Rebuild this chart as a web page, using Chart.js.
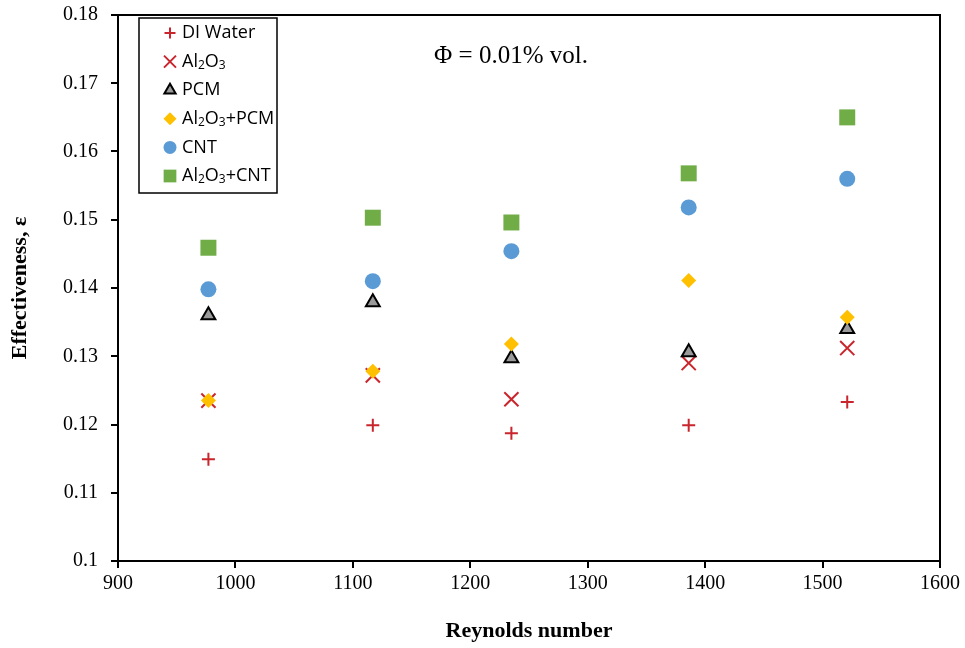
<!DOCTYPE html>
<html>
<head>
<meta charset="utf-8">
<script src="https://cdn.jsdelivr.net/npm/chart.js@4.4.1/dist/chart.umd.min.js"></script>
<style>
  html, body { margin: 0; padding: 0; background: #fff; }
  #wrap { width: 965px; height: 648px; }
</style>
</head>
<body>
<div id="wrap"><canvas id="chart" width="965" height="648"></canvas></div>
<script>
// values
var reynolds = [977, 1117, 1235, 1386, 1521];
var diWater  = [0.1149, 0.1199, 0.1187, 0.1199, 0.1233];
var al2o3    = [0.1235, 0.1272, 0.1237, 0.1290, 0.1312];
var pcm      = [0.1360, 0.1379, 0.1297, 0.1306, 0.1340];
var al2o3Pcm = [0.1235, 0.1278, 0.1318, 0.1411, 0.1357];
var cnt      = [0.1398, 0.1410, 0.1454, 0.1518, 0.1560];
var al2o3Cnt = [0.1459, 0.1503, 0.1496, 0.1568, 0.1650];

var seriesNames = ['DI Water', 'Al₂O₃', 'PCM', 'Al₂O₃+PCM', 'CNT', 'Al₂O₃+CNT'];
var xTicks = [900, 1000, 1100, 1200, 1300, 1400, 1500, 1600];
var yTicks = [0.1, 0.11, 0.12, 0.13, 0.14, 0.15, 0.16, 0.17, 0.18];
var noteText = 'Φ = 0.01% vol.';

var red = '#C9252C';

var styles = [
    {pointStyle: 'cross',    radius: 6.5, bg: red,       border: red,       bw: 2, legendR: 5.5},
    {pointStyle: 'crossRot', radius: 10,  bg: red,       border: red,       bw: 2, legendR: 8.5},
    {pointStyle: 'triangle', radius: 8,   bg: '#9A9A9A', border: '#000000', bw: 2, legendR: 6.5},
    {pointStyle: 'rectRot',  radius: 7.5, bg: '#FFC000', border: '#FFC000', bw: 0, legendR: 6.5},
    {pointStyle: 'circle',   radius: 8,   bg: '#5B9BD5', border: '#5B9BD5', bw: 0, legendR: 6.5},
    {pointStyle: 'rect',     radius: 11.3,bg: '#70AD47', border: '#70AD47', bw: 0, legendR: 9}
];

var allSeries = [diWater, al2o3, pcm, al2o3Pcm, cnt, al2o3Cnt];

var toPoints = function(ys){
    var pts = [];
    for(var i=0;i<reynolds.length;i++){
        pts.push({x: reynolds[i], y: ys[i]});
    }
    return pts;
};

var datasets = [];
for(var i=0;i<allSeries.length;i++){
    var s = styles[i];
    datasets.push({
        label: seriesNames[i],
        data: toPoints(allSeries[i]),
        showLine: false,
        pointStyle: s.pointStyle,
        pointRadius: s.radius,
        pointHoverRadius: s.radius,
        backgroundColor: s.bg,
        borderColor: s.border,
        pointBorderWidth: s.bw,
        borderWidth: s.bw,
        order: allSeries.length - i
    });
}

// draws text where unicode subscript digits become small lowered digits
var subMap = {'₀':'0','₁':'1','₂':'2','₃':'3','₄':'4'};
var drawRichText = function(ctx, text, x, y, size, family){
    var cx = x;
    for(var k=0;k<text.length;k++){
        var ch = text[k];
        if(subMap[ch]){
            ctx.font = Math.round(size*0.65) + 'px ' + family;
            ctx.fillText(subMap[ch], cx, y + size*0.22);
            cx += ctx.measureText(subMap[ch]).width;
        } else {
            ctx.font = size + 'px ' + family;
            ctx.fillText(ch, cx, y);
            cx += ctx.measureText(ch).width;
        }
    }
};

var framePlugin = {
    id: 'frame',
    afterDraw: function(chart){
        var ctx = chart.ctx;
        var a = chart.chartArea;
        ctx.save();
        ctx.strokeStyle = '#000';
        ctx.lineWidth = 2;
        ctx.beginPath();
        ctx.moveTo(a.left, a.top);
        ctx.lineTo(a.right, a.top);
        ctx.lineTo(a.right, a.bottom);
        ctx.stroke();

        // note text
        ctx.fillStyle = '#000';
        ctx.font = '25px "Liberation Serif"';
        ctx.textAlign = 'center';
        ctx.textBaseline = 'alphabetic';
        ctx.fillText(noteText, 511, 63);

        // legend box
        var bx = 139, by = 18, bw = 138, bh = 175;
        ctx.fillStyle = '#fff';
        ctx.fillRect(bx, by, bw, bh);
        ctx.lineWidth = 1.5;
        ctx.strokeStyle = '#000';
        ctx.strokeRect(bx, by, bw, bh);

        ctx.textAlign = 'left';
        ctx.textBaseline = 'middle';
        for(var i=0;i<seriesNames.length;i++){
            var s = styles[i];
            var yy = 33 + i*28.6;
            ctx.fillStyle = s.bg;
            ctx.strokeStyle = s.border;
            ctx.lineWidth = s.bw || 1;
            Chart.helpers.drawPoint(ctx, {pointStyle: s.pointStyle, radius: s.legendR, rotation: 0, borderWidth: s.bw}, 170, yy);
            ctx.fillStyle = '#000';
            drawRichText(ctx, seriesNames[i], 182, yy, 18, '"Open Sans"');
        }
        ctx.restore();
    }
};

var ctx = document.getElementById('chart').getContext('2d');
new Chart(ctx, {
    type: 'scatter',
    data: {datasets: datasets},
    options: {
        responsive: false,
        animation: false,
        layout: {padding: {top: 15, right: 25, left: 0, bottom: 0}},
        plugins: {legend: {display: false}, tooltip: {enabled: false}},
        scales: {
            x: {
                type: 'linear',
                min: 900, max: 1600,
                afterFit: function(scale){
                    scale.height = 87;
                    scale.paddingLeft = 0;
                    scale.paddingRight = 0;
                },
                afterBuildTicks: function(scale){
                    scale.ticks = xTicks.map(function(v){ return {value: v}; });
                },
                border: {color: '#000', width: 2},
                grid: {display: true, drawOnChartArea: false, drawTicks: true, tickLength: 7, color: '#000', lineWidth: 2},
                ticks: {
                    color: '#000', padding: 4,
                    font: {family: '"Liberation Serif"', size: 20},
                    callback: function(v){ return String(v); }
                },
                title: {
                    display: true, text: 'Reynolds number', color: '#000',
                    font: {family: '"Liberation Serif"', size: 22, weight: 'bold'},
                    padding: {top: 0, bottom: 3}
                }
            },
            y: {
                type: 'linear',
                min: 0.1, max: 0.18,
                afterFit: function(scale){
                    scale.width = 118;
                    scale.paddingTop = 0;
                    scale.paddingBottom = 0;
                },
                afterBuildTicks: function(scale){
                    scale.ticks = yTicks.map(function(v){ return {value: v}; });
                },
                border: {color: '#000', width: 2},
                grid: {display: true, drawOnChartArea: false, drawTicks: true, tickLength: 7, color: '#000', lineWidth: 2},
                ticks: {
                    color: '#000', padding: 13,
                    font: {family: '"Liberation Serif"', size: 20},
                    callback: function(v){ return String(Math.round(v*100)/100); }
                },
                title: {
                    display: true, text: 'Effectiveness, ε', color: '#000',
                    font: {family: '"Liberation Serif"', size: 22, weight: 'bold'},
                    padding: {top: 7, bottom: 0}
                }
            }
        }
    },
    plugins: [framePlugin]
});
</script>
</body>
</html>
